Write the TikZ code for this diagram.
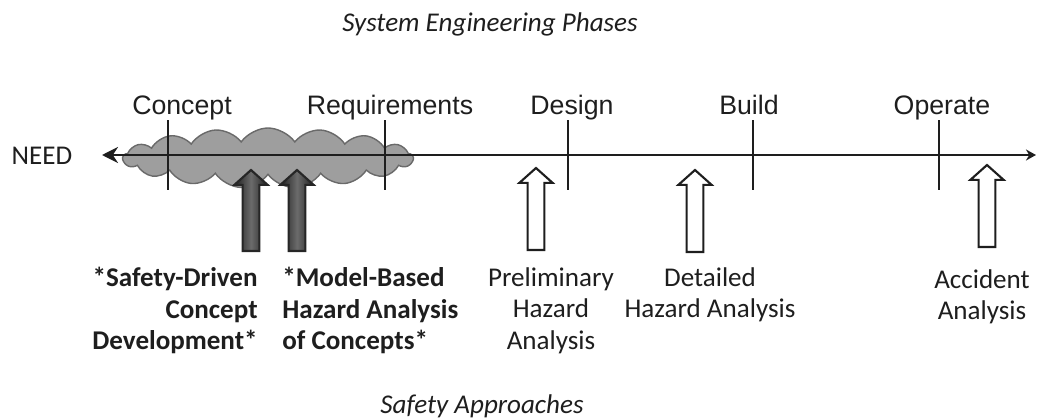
\documentclass[tikz,border=0pt]{standalone}
\usepackage{fontspec}
\setmainfont{Carlito}
\newfontfamily\phasefont{Liberation Sans}
\usepackage{tikz}
\usetikzlibrary{arrows.meta,shapes.symbols,positioning,calc}
\definecolor{seink}{HTML}{1E1E1E}
\definecolor{secloudfill}{HTML}{9E9E9E}
\definecolor{secloudline}{HTML}{6A6A6A}
\tikzset{
  seaxis/.style={{Stealth[length=3.2mm,width=3.2mm]}-{Stealth[length=2mm,width=2.2mm]},
    draw=seink, line width=1.7pt},
  setick/.style={draw=seink, line width=1.7pt},
  sephase/.style={font=\phasefont\fontsize{15.2}{18}\selectfont, text=seink,
    inner sep=0pt, anchor=base},
  secloud/.style={cloud, cloud puffs=17, cloud puff arc=110, aspect=4.8,
    draw=secloudline, fill=secloudfill, line width=0.8pt,
    minimum width=5.8cm, minimum height=1.2cm, inner sep=0pt},
  seblock/.style={line width=1.2pt, line join=miter,
    to path={let \p1=(\tikztostart), \p2=(\tikztotarget) in
      (\x1-4.8pt,\y1) -- (\x1-4.8pt,\y2-8.5pt) -- (\x1-9.5pt,\y2-8.5pt) -- (\x2,\y2)
      -- (\x1+9.5pt,\y2-8.5pt) -- (\x1+4.8pt,\y2-8.5pt) -- (\x1+4.8pt,\y1) -- cycle}},
  sefilled/.style={seblock, draw=black!85, left color=black!88, right color=black!88,
    middle color=black!58},
  sehollow/.style={seblock, draw=seink, fill=white},
  setext/.style={font=\fontsize{15.4}{17.9}\selectfont, text=seink, inner sep=0pt,
    align=center},
  sebold/.style={setext, font=\bfseries\fontsize{15.4}{17.9}\selectfont},
  secaption/.style={setext, font=\itshape\fontsize{15.4}{17.9}\selectfont, anchor=base}
}

\begin{document}
\begin{tikzpicture}[x=0.2mm,y=-0.2mm]
  \useasboundingbox (0,0) rectangle (1037,419);
  % captions
  \node[secaption] (phases) at (490,31) {System Engineering Phases};
  \node[secaption] (approaches) at (482,413) {Safety Approaches};
  % concept cloud, behind the time line
  \node[secloud] (cloud) at (268,158) {};
  % time line
  \node[setext, anchor=base] (need) at (42,164) {NEED};
  \coordinate (axL) at (102,155);
  \coordinate (axR) at (1036,155);
  \draw[seaxis] (axL) -- (axR);
  \foreach \tname/\tx/\lx/\ttext in {concept/168/182/Concept, requirements/385/390/Requirements,
      design/568/572/Design, build/753/749/Build, operate/939/942/Operate}{
    \coordinate (\tname top) at (\tx,120);
    \coordinate (\tname bot) at (\tx,190);
    \draw[setick] (\tname top) -- (\tname bot);
    \node[sephase] (\tname) at (\lx,114) {\ttext};
  }
  % safety approaches
  \coordinate (sdcbase) at (251,251);  \coordinate (sdctip) at (251,170);
  \coordinate (mbhabase) at (297,251); \coordinate (mbhatip) at (297,170);
  \coordinate (phabase) at (536,250);  \coordinate (phatip) at (536,168);
  \coordinate (dhabase) at (695,252);  \coordinate (dhatip) at (695,170);
  \coordinate (aabase) at (987,247);   \coordinate (aatip) at (987,165);
  \draw[sefilled] (sdcbase) to (sdctip);
  \draw[sefilled] (mbhabase) to (mbhatip);
  \draw[sehollow] (phabase) to (phatip);
  \draw[sehollow] (dhabase) to (dhatip);
  \draw[sehollow] (aabase) to (aatip);
  \node[sebold, align=right, anchor=north east] (sdc) at (258,267) {*Safety-Driven\\Concept\\Development*};
  \node[sebold, align=left, anchor=north west] (mbha) at (282,267) {*Model-Based\\Hazard Analysis\\of Concepts*};
  \node[setext, anchor=north] (pha) at (551,267) {Preliminary\\Hazard\\Analysis};
  \node[setext, anchor=north] (dha) at (710,267) {Detailed\\Hazard Analysis};
  \node[setext, anchor=north] (aa) at (982,269) {Accident\\Analysis};
\end{tikzpicture}
\end{document}
